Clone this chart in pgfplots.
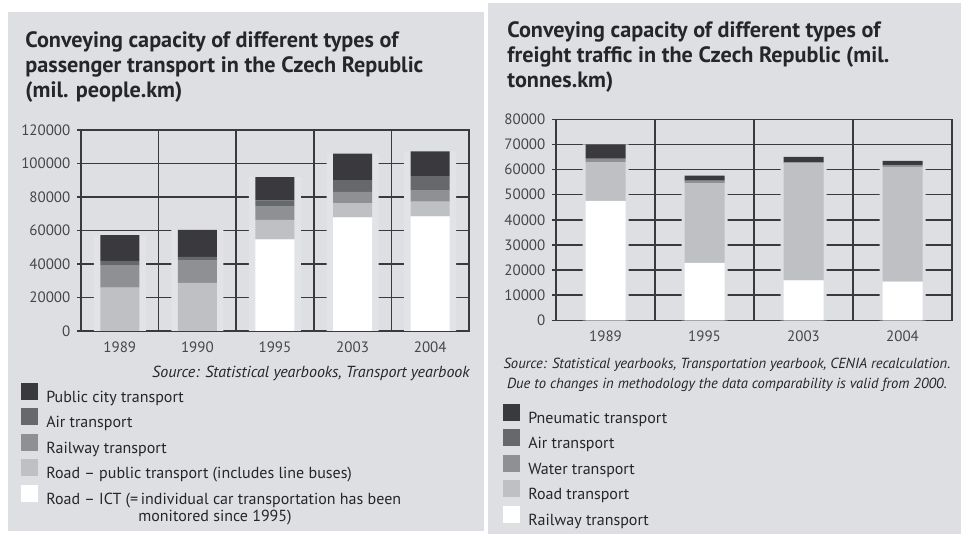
\documentclass[border=0pt]{standalone}
\usepackage{pgfplots}
\pgfplotsset{compat=1.18}
\usepackage{fontspec}
\setmainfont{PT Sans}

\definecolor{panel}{RGB}{221,223,226}
\definecolor{haloL}{RGB}{226,227,230}
\definecolor{cdark}{RGB}{58,58,62}
\definecolor{cair}{RGB}{102,104,107}
\definecolor{cmid}{RGB}{142,144,147}
\definecolor{clight}{RGB}{190,192,195}
\definecolor{gridc}{RGB}{58,58,60}
\definecolor{txt}{RGB}{38,38,42}
\definecolor{ticktxt}{RGB}{70,70,72}

\pgfplotsset{
  backaxis/.style={
    scale only axis, anchor=south west, ymin=0, enlargelimits=false,
    axis line style={draw=gridc, line width=0.75pt},
    ymajorgrids, xminorgrids,
    major grid style={draw=gridc, line width=0.75pt},
    minor grid style={draw=gridc, line width=0.75pt},
    xtick style={draw=none},
    ytick style={draw=gridc, line width=0.75pt},
    tick align=outside, major tick length=1.8pt,
    ytick pos=left,
    tick label style={font=\fontsize{7.5}{9}\selectfont, text=ticktxt},
    /pgf/number format/assume math mode=true,
    /pgf/number format/fixed,
    /pgf/number format/precision=0,
    /pgf/number format/1000 sep={},
    scaled y ticks=false,
  },
  frontaxis/.style={
    scale only axis, anchor=south west, ymin=0, enlargelimits=false,
    hide axis, ybar stacked,
    reverse legend, legend cell align=left,
    legend style={draw=none, fill=none, anchor=north west, inner sep=0pt,
      font=\fontsize{8}{9.6}\selectfont, text=txt, row sep=0pt,
      nodes={inner sep=0pt, text height=8.5pt, text depth=3pt},
      /tikz/every odd column/.style={column sep=4pt}},
  },
  sq/.style={draw=none, fill=#1,
    legend image code/.code={\fill[#1] (0pt,-1.5pt) rectangle (8.5pt,7pt);}},
}

\begin{document}
\begin{tikzpicture}
  % page and panels (1 px of the reference = 0.5pt)
  \fill[white] (0pt,0pt) rectangle (480.5pt,267pt);
  \fill[panel] (4pt,1.5pt) rectangle (242pt,261pt);
  \fill[panel] (244pt,0pt) rectangle (480.5pt,265.5pt);

  % ---- passenger transport ----
  \node[anchor=north west, align=left, inner sep=0pt, text=txt,
        font=\bfseries\fontsize{11.1}{12.5}\selectfont] at (12.5pt,251.5pt)
    {Conveying capacity of different types of\\passenger transport in the Czech Republic\\(mil. people.km)};

  \begin{axis}[backaxis, at={(40.5pt,101.5pt)}, width=194pt, height=100.5pt,
      xmin=-0.5, xmax=4.5, ymax=120000,
      ytick={0,20000,...,120000},
      xtick={0,...,4}, xticklabels={1989,1990,1995,2003,2004},
      minor xtick={0.5,1.5,2.5,3.5}]
    \addplot[ybar, bar width=26pt, fill=haloL, draw=none]
      coordinates {(0,57300) (1,60300) (2,91800) (3,105900) (4,107300)};
  \end{axis}

  \begin{axis}[frontaxis, at={(40.5pt,101.5pt)}, width=194pt, height=100.5pt,
      xmin=-0.5, xmax=4.5, ymax=120000, bar width=19.5pt,
      legend style={at={(-0.155,-0.256)}}]
    \addplot[sq=white]  coordinates {(0,0) (1,0) (2,54700) (3,67900) (4,68500)};
    \addplot[sq=clight] coordinates {(0,25900) (1,28700) (2,11600) (3,8500) (4,8700)};
    \addplot[sq=cmid]   coordinates {(0,13100) (1,13300) (2,7900) (3,6600) (4,6600)};
    \addplot[sq=cair]   coordinates {(0,2800) (1,2200) (2,3800) (3,7100) (4,8700)};
    \addplot[sq=cdark]  coordinates {(0,15500) (1,16100) (2,13800) (3,15800) (4,14800)};
    \legend{{Road -- ICT (=\,individual car transportation has been},
      {Road -- public transport (includes line buses)},
      Railway transport, Air transport, Public city transport}
  \end{axis}
  \node[anchor=base west, inner sep=0pt, text=txt,
        font=\fontsize{8}{9.6}\selectfont] at (69pt,6pt) {monitored since 1995)};

  \node[anchor=east, inner sep=0pt, text=txt,
        font=\itshape\fontsize{8}{9.6}\selectfont] at (235pt,80.5pt)
    {Source: Statistical yearbooks, Transport yearbook};

  % ---- freight traffic ----
  \node[anchor=north west, align=left, inner sep=0pt, text=txt,
        font=\bfseries\fontsize{11.1}{12.5}\selectfont] at (253.5pt,256.5pt)
    {Conveying capacity of different types of\\freight traffic in the Czech Republic (mil.\\tonnes.km)};

  \begin{axis}[backaxis, at={(278pt,106.85pt)}, width=198pt, height=100.5pt,
      xmin=-0.5, xmax=3.5, ymax=80000,
      ytick={0,10000,...,80000},
      xtick={0,...,3}, xticklabels={1989,1995,2003,2004},
      minor xtick={0.5,1.5,2.5}]
    \addplot[ybar, bar width=23pt, fill=panel, draw=none]
      coordinates {(0,70030) (1,57630) (2,65030) (3,63430)};
  \end{axis}

  \begin{axis}[frontaxis, at={(278pt,106.85pt)}, width=198pt, height=100.5pt,
      xmin=-0.5, xmax=3.5, ymax=80000, bar width=20pt,
      legend style={at={(-0.134,-0.414)}}]
    \addplot[sq=white]  coordinates {(0,47500) (1,22900) (2,15900) (3,15400)};
    \addplot[sq=clight] coordinates {(0,15400) (1,31600) (2,46600) (3,45700)};
    \addplot[sq=cmid]   coordinates {(0,1400) (1,1100) (2,400) (3,700)};
    \addplot[sq=cair]   coordinates {(0,30) (1,30) (2,30) (3,30)};
    \addplot[sq=cdark]  coordinates {(0,5700) (1,2000) (2,2100) (3,1600)};
    \legend{Railway transport, Road transport, Water transport,
      Air transport, Pneumatic transport}
  \end{axis}

  \node[align=center, inner sep=0pt, text=txt,
        font=\itshape\fontsize{7.3}{10}\selectfont] at (363.5pt,79.5pt)
    {Source: Statistical yearbooks, Transportation yearbook, CENIA recalculation.\\
     Due to changes in methodology the data comparability is valid from 2000.};
\end{tikzpicture}
\end{document}
